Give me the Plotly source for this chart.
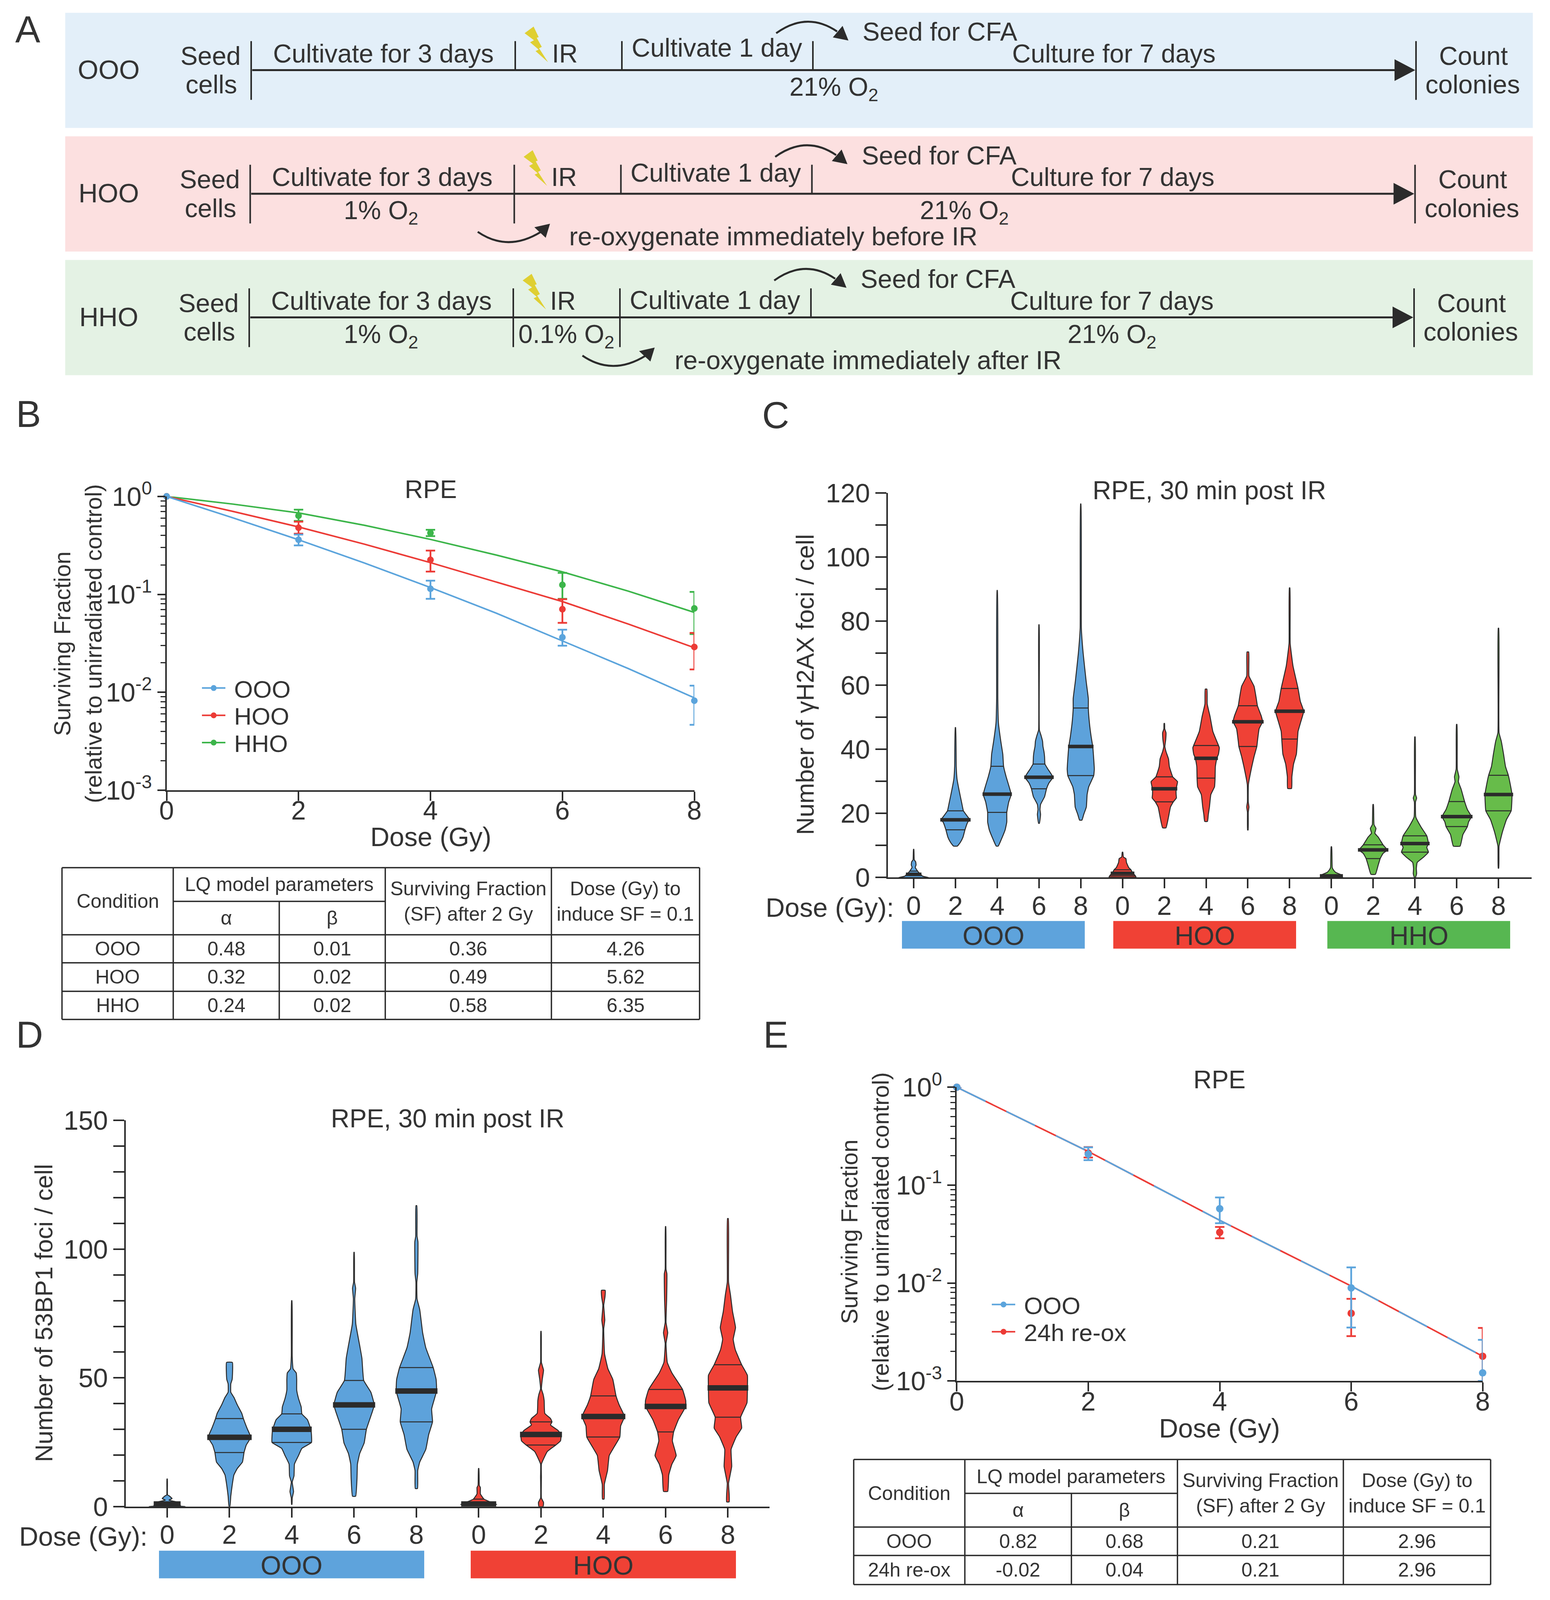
import numpy as np
import plotly.graph_objects as go

# reference size, and the area the browser really shows (it stops at 4096 high, page margin 8)
W, H = 3968, 4576
PAGE_H = 4096
FIG_W, FIG_H = W - 16, PAGE_H - 16
SQUEEZE = PAGE_H / H

FONT = "Liberation Sans"
INK = "#333333"
LINE = "#2b2b2b"
BLUE, RED, GREEN = "#5BA4DC", "#EC3B36", "#3CB54A"
V_BLUE, V_RED, V_GREEN = "#5DA2DB", "#EF4136", "#67BC4A"

# --- panel B, survival curves
dose = [0, 2, 4, 6, 8]
fit_dose = [0, 1, 2, 3, 4, 5, 6, 7, 8]

b_fit_ooo = [1, .606, .361, .2088, .1174, .0642, .03346, .01745, .00877]
b_fit_hoo = [1, .705, .488, .3253, .2108, .134, .0844, .0497, .0285]
b_fit_hho = [1, .836, .679, .507, .364, .252, .1697, .1078, .0654]

b_ooo = [1, .361, .114, .0364, .0082]
b_ooo_hi = [1, .408, .138, .0436, .0117]
b_ooo_lo = [1, .316, .09, .0299, .00466]
b_hoo = [1, .479, .225, .0705, .029]
b_hoo_hi = [1, .552, .28, .0893, .0404]
b_hoo_lo = [1, .416, .171, .0512, .0171]
b_hho = [1, .636, .424, .125, .0719]
b_hho_hi = [1, .733, .457, .166, .106]
b_hho_lo = [1, .562, .393, .09, .0393]

# --- panel E, survival curves
e_fit = [1, .4696, .2206, .0983, .04378, .0202, .00932, .00408, .00179]
e_ooo = [1, .207, .0575, .00892, .00121]
e_ooo_hi = [1, .243, .0748, .01447, .00263]
e_ooo_lo = [1, .18, .0408, .00351, .001]
e_rox = [1, .213, .033, .00491, .00179]
e_rox_hi = [1, .245, .0374, .00691, .00348]
e_rox_lo = [1, .1916, .0287, .00287, .001]

# --- tables
table_head = ["Condition", "LQ model parameters", "α", "β",
              "Surviving Fraction<br>(SF) after 2 Gy", "Dose (Gy) to<br>induce SF = 0.1"]
b_rows = [["OOO", "0.48", "0.01", "0.36", "4.26"],
          ["HOO", "0.32", "0.02", "0.49", "5.62"],
          ["HHO", "0.24", "0.02", "0.58", "6.35"]]
e_rows = [["OOO", "0.82", "0.68", "0.21", "2.96"],
          ["24h re-ox", "-0.02", "0.04", "0.21", "2.96"]]

# --- panel C violins: foci levels and the width seen at each level
c_dose = [0, 2, 4, 6, 8] * 3
c_levels = [
    [0, .4, 1, 1.6, 2.4, 3.2, 3.9, 4.9, 5.5, 8.8],
    [9.8, 11, 12.6, 14.9, 17.3, 18, 18.9, 20.8, 22.8, 26.7, 30.7, 34.6, 46.8],
    [9.8, 11.8, 14.9, 17.3, 20.3, 23.6, 25.9, 28.3, 31.4, 34.7, 38.5, 42.5, 48.3, 55.8, 89.6],
    [16.9, 19.7, 21.2, 22.8, 25.2, 27.7, 29.5, 31.3, 33.8, 35.4, 37.7, 39.3, 40.9, 42.5, 44.4, 46, 78.9],
    [17.9, 19.7, 22, 25.9, 28.3, 31.8, 33.8, 37, 40.9, 44, 47.9, 52.7, 55.8, 61.3, 70, 77.8, 116.6],
    [.15, .6, 1.6, 2.4, 3.1, 4.7, 5.9, 6.4, 7.9],
    [15.5, 18.9, 22, 23.6, 24.8, 25.9, 27.7, 29.9, 31.4, 34.6, 37, 39.3, 40.9, 43, 45.2, 46.4, 48.1],
    [17.5, 19.7, 22, 25.9, 28.3, 31, 34.6, 37.2, 38.5, 40.5, 42.5, 45.6, 50.3, 54.2, 58.8],
    [14.8, 20.4, 22, 23.6, 29, 34.6, 37.7, 40.9, 42.5, 46.4, 48.6, 50.3, 53.6, 55.8, 59.7, 62.9, 70.4],
    [27.8, 31.4, 35.4, 38.5, 43.2, 45.6, 48.7, 51.9, 55, 59, 66, 73.1, 90.4],
    [0, .8, 1.6, 2.4, 3.1, 9.6],
    [1, 3.9, 5.9, 7.5, 8.6, 10.2, 12.6, 13.8, 15.3, 16.5, 22.8],
    [0, 1.2, 2.8, 4.7, 6.3, 7.9, 9.4, 10.6, 13, 15.7, 18.9, 23.6, 24.8, 25.9, 43.9],
    [9.8, 13.4, 15.9, 17.3, 19, 21.2, 23.7, 27.5, 29.9, 31.4, 33.8, 47.8],
    [2.9, 9.8, 14.2, 18, 20.8, 25.9, 29, 31.9, 34.6, 38.5, 42.5, 45.2, 77.8],
]
c_width = [
    [75, 45, 35, 25, 15, 8, 12, 10, 3, 1],
    [10, 25, 38, 48, 62, 72, 62, 40, 33, 20, 8, 4, 1],
    [5, 20, 40, 48, 48, 58, 70, 60, 45, 32, 28, 18, 6, 3, 1],
    [2, 8, 5, 8, 28, 38, 50, 70, 45, 30, 28, 25, 20, 18, 10, 2, 1],
    [6, 15, 28, 32, 40, 65, 68, 65, 60, 52, 44, 38, 38, 27, 12, 3, 1],
    [48, 45, 35, 30, 22, 14, 12, 3, 1],
    [6, 15, 22, 32, 43, 42, 42, 47, 30, 18, 15, 6, 2, 5, 6, 1.5, 1],
    [5, 8, 12, 17, 30, 32, 33, 38, 44, 47, 38, 24, 14, 4, 3],
    [1, 1.5, 4, 1.5, 2, 14, 22, 32, 34, 40, 52, 48, 34, 30, 22, 4, 3],
    [7, 8, 14, 24, 28, 30, 40, 50, 38, 30, 12, 2, 1],
    [40, 35, 15, 7, 3, 1],
    [8, 18, 25, 35, 50, 35, 18, 6, 10, 3, 1],
    [2, 6, 5, 8, 30, 48, 42, 48, 42, 22, 3, 2, 6, 2, 1],
    [12, 22, 38, 42, 52, 38, 28, 16, 6, 8, 2, 1],
    [1, 2, 14, 28, 45, 48, 42, 35, 25, 18, 10, 2, 1],
]
c_width_scale = [1 / 209.5] * 5 + [1 / 148.3] * 10
c_median = [1, 18, 26, 31.3, 40.9, 1.3, 27.7, 37.2, 48.6, 51.9, .5, 8.6, 10.6, 19, 25.9]
c_q1 = [None, 14.9, 20.3, 27.7, 31.8, .5, 23.6, 31, 40.9, 43.2, None, 5.9, 7.9, 15.9, 20.8]
c_q3 = [2, 20.8, 34.7, 35.4, 52.9, 2.4, 31.4, 41.2, 53.6, 59, None, 10.2, 13, 23.7, 31.9]

# --- panel D violins
d_dose = [0, 2, 4, 6, 8] * 2
d_levels = [
    [0, .2, 1.2, 1.8, 2.5, 3.1, 4.1, 4.5, 10.7],
    [0, 4.1, 8.2, 12.3, 14.8, 17.3, 21, 23.9, 26.9, 30.5, 34.2, 36.2, 39.5, 42.4, 44.4, 47.7, 49.4, 56],
    [.8, 3.3, 5.8, 9.5, 11.9, 16.5, 19.8, 22.6, 24.9, 27.6, 30, 33.7, 36, 38.7, 42, 45.3, 49.4, 51.9, 53.5, 58.4, 80],
    [4, 10.7, 16.5, 20.6, 24.7, 30, 37, 39.5, 44.4, 49, 57.6, 62.6, 70.8, 80.7, 84.8, 87.2, 98.8],
    [7, 14, 17.3, 22.2, 28, 32.9, 37.9, 44.9, 49.4, 54, 61.7, 67.5, 76.5, 80.7, 87.2, 90.5, 102.9, 105, 116.9],
    [.8, 1.6, 2.9, 4.9, 7.4, 8.2, 14.8],
    [0, 1.6, 3.3, 11.5, 16.5, 21.4, 23.9, 25.5, 28, 29.6, 31.7, 32.9, 34.2, 36.2, 41.2, 43.6, 45.7, 49.4, 53, 56, 68.1],
    [2.9, 8.6, 14, 19.8, 23, 27, 31.3, 35, 39.5, 43, 49.4, 53.5, 59.3, 69.1, 72.4, 78.2, 81.5, 84],
    [5.9, 12.3, 16.5, 19.8, 25.5, 29, 33.7, 38.9, 41.2, 45.5, 51.9, 56, 63.4, 67.5, 71.6, 80.7, 90.5, 92.2, 108.8],
    [1.8, 4.9, 9, 15.6, 22.2, 27.2, 30.5, 34.7, 40.3, 46.1, 51, 55.1, 60.9, 65, 69.5, 75.7, 82.3, 87.2, 111.9],
]
d_width = [
    [80, 60, 55, 40, 8, 22, 10, 2, 1],
    [2, 6, 12, 20, 35, 58, 65, 75, 95, 78, 62, 55, 35, 20, 6, 6, 12, 13],
    [1, 2, 8, 2, 10, 12, 30, 45, 88, 88, 85, 70, 45, 42, 30, 22, 22, 20, 6, 2, 1],
    [7, 13, 15, 25, 45, 55, 82, 90, 75, 43, 35, 25, 8, 3, 7, 2, 1],
    [5, 6, 15, 42, 55, 72, 68, 90, 88, 75, 42, 28, 15, 3, 2, 6, 7, 3, 2],
    [85, 60, 25, 8, 8, 3, 1],
    [10, 12, 2, 2, 2, 30, 70, 92, 95, 80, 45, 52, 45, 18, 15, 10, 2, 6, 12, 2, 1],
    [4, 5, 20, 28, 50, 78, 82, 100, 75, 60, 45, 22, 6, 2, 7, 2, 8, 9],
    [10, 15, 30, 50, 32, 38, 60, 95, 95, 80, 30, 8, 2, 10, 2, 5, 6, 2, 1],
    [6, 6, 3, 18, 15, 40, 65, 60, 90, 92, 92, 65, 35, 25, 36, 22, 12, 3, 2],
]
d_width_scale = [1 / 277.8] * 5 + [1 / 294.2] * 5
d_median = [1, 26.9, 30, 39.5, 44.9, 1, 28, 35, 38.9, 46.1]
d_q1 = [None, 21, 24.9, 30, 32.9, None, 23.9, 27, 29, 34.7]
d_q3 = [None, 34.2, 36, 49, 54, 2.9, 32.9, 43, 45.5, 55.1]


def px(x):
    return (x - 8) / FIG_W


def py(y):
    return 1 - (y * SQUEEZE - 8) / FIG_H


fig = go.Figure()
shapes = []
notes = []


def text_at(x, y, text, size=66, angle=0, color=INK):
    notes.append(dict(x=px(x), y=py(y), xref="paper", yref="paper", text=text, showarrow=False,
                      xanchor="center", yanchor="middle", textangle=angle,
                      font=dict(family=FONT, size=size, color=color)))


def rect(x0, y0, x1, y1, fill):
    shapes.append(dict(type="rect", xref="paper", yref="paper", x0=px(x0), x1=px(x1),
                       y0=py(y0), y1=py(y1), fillcolor=fill, line=dict(width=0), layer="below"))


def seg(x0, y0, x1, y1, width=4, color=LINE):
    shapes.append(dict(type="line", xref="paper", yref="paper", x0=px(x0), x1=px(x1),
                       y0=py(y0), y1=py(y1), line=dict(color=color, width=width)))


def poly(points, fill):
    d = "M" + " L".join(f"{px(a):.6f},{py(b):.6f}" for a, b in points) + " Z"
    shapes.append(dict(type="path", xref="paper", yref="paper", path=d, fillcolor=fill, line=dict(width=0)))


def curve(x0, y0, cx, cy, x1, y1):
    d = f"M{px(x0):.6f},{py(y0):.6f} Q{px(cx):.6f},{py(cy):.6f} {px(x1):.6f},{py(y1):.6f}"
    shapes.append(dict(type="path", xref="paper", yref="paper", path=d, line=dict(color=LINE, width=5)))


# --- panel A, protocol strips
strip_names = ["OOO", "HOO", "HHO"]
strip_fill = ["#E3EFF9", "#FCE0E0", "#E4F2E4"]
strip_top = [36.5, 390, 743.6]
strip_down = [[], [1319], [1319, 1592]]
cultivate_shift = [-64.5, -60, -50]
oxygen_labels = [[(2134, "21% O<sub>2</sub>")],
                 [(975, "1% O<sub>2</sub>"), (2468, "21% O<sub>2</sub>")],
                 [(975, "1% O<sub>2</sub>"), (1450, "0.1% O<sub>2</sub>"), (2846, "21% O<sub>2</sub>")]]
lightning = [(1366, 76), (1379, 106), (1374, 108), (1387, 134), (1380, 138), (1403, 178),
             (1371, 146), (1379, 142), (1357, 121), (1367, 115), (1343, 95)]

for i, name in enumerate(strip_names):
    top = strip_top[i]
    dx, dy = -2.5 * i, top - strip_top[0]
    rect(167, top, 3924, top + 329.5, strip_fill[i])
    base = 200.6 + dy
    seg(645.6 + dx, base, 3580 + dx, base, 5)
    poly([(3570 + dx, base - 31), (3623 + dx, base), (3570 + dx, base + 31)], LINE)
    for xt in (643, 3625):
        seg(xt + dx, base - 83, xt + dx, base + 85, 4)
    for xt in (1319, 1592, 2081):
        seg(xt + dx, base - 83, xt + dx, base, 4)
    for xt in strip_down[i]:
        seg(xt + dx, base, xt + dx, base + 85, 4)
    poly([(a + dx, b + dy) for a, b in lightning], "#DFCF32")
    curve(1987 + dx, 95 + dy, 2066 + dx, 31.5 + dy, 2143 + dx, 90 + dy)
    poly([(2157 + dx, 74 + dy), (2132 + dx, 107 + dy), (2172 + dx, 116 + dy)], LINE)
    text_at(278, base - 2, name, 68)
    text_at(539 + dx, base - 41, "Seed")
    text_at(541 + dx, base + 41, "cells")
    text_at(981 + dx, base - 48, "Cultivate for 3 days")
    text_at(1446 + dx, base - 48, "IR")
    text_at(1835 + dx, base + cultivate_shift[i], "Cultivate 1 day")
    text_at(2406 + dx, base - 110, "Seed for CFA")
    text_at(2851 + dx, base - 48, "Culture for 7 days")
    text_at(3772 + dx, base - 41, "Count")
    text_at(3770 + dx, base + 41, "colonies")
    for ox, label in oxygen_labels[i]:
        text_at(ox, base + 53, label)

for ax, ay, label, lx in ((0, 0, "re-oxygenate immediately before IR", 1980),
                          (268, 354, "re-oxygenate immediately after IR", 2221.6)):
    curve(1223 + ax, 663 + ay, 1300 + ax, 722 + ay, 1385 + ax, 663 + ay)
    poly([(1408 + ax, 640 + ay), (1368 + ax, 650 + ay), (1397 + ax, 680 + ay)], LINE)
    text_at(lx, 675.6 + ay, label)

for letter, lx, ly in (("A", 71, 83), ("B", 73, 1184), ("C", 1986, 1187), ("D", 75, 2959), ("E", 1986, 2959)):
    text_at(lx, ly, letter, 96)


# --- axes
def axis_common():
    return dict(showgrid=False, zeroline=False, showline=True, linecolor=LINE, linewidth=4,
                ticks="outside", tickcolor=LINE, tickwidth=4,
                tickfont=dict(family=FONT, size=68, color=INK))


log_minor = [m * 10.0 ** e for e in (-3, -2, -1) for m in (2, 3, 4, 5, 6, 7, 8, 9)]
log_ticks = [1, .1, .01, .001]
log_text = ["10<sup>0</sup>", "10<sup>-1</sup>", "10<sup>-2</sup>", "10<sup>-3</sup>"]


def log_axis(domain):
    return dict(axis_common(), type="log", range=[-3, 0], domain=domain, tickmode="array",
                tickvals=log_ticks, ticktext=log_text, ticklen=20,
                minor=dict(tickmode="array", tickvals=log_minor, ticks="outside", ticklen=12,
                           tickwidth=3, tickcolor=LINE))


def dose_axis(domain, anchor, standoff):
    return dict(axis_common(), range=[0, 8], domain=domain, anchor=anchor, tickmode="array",
                tickvals=dose, ticktext=[str(d) for d in dose], ticklen=23, ticklabelstandoff=standoff)


def count_axis(domain, top, step, anchor):
    return dict(axis_common(), range=[0, top], domain=domain, anchor=anchor, dtick=step, ticklen=28,
                minor=dict(dtick=10, ticks="outside", ticklen=28, tickwidth=4, tickcolor=LINE))


def group_axis(domain, rng, labels, anchor):
    return dict(axis_common(), range=rng, domain=domain, anchor=anchor, tickmode="array",
                tickvals=list(range(len(labels))), ticktext=[str(d) for d in labels], ticklen=24,
                ticklabelstandoff=-14)


fig.update_layout(
    width=FIG_W, height=FIG_H, autosize=False,
    margin=dict(l=0, r=0, t=0, b=0, autoexpand=False),
    paper_bgcolor="white", plot_bgcolor="rgba(0,0,0,0)", showlegend=True,
    font=dict(family=FONT, color=INK),
    xaxis=dose_axis([px(426.5), px(1777.5)], "y", -34),
    yaxis=log_axis([py(2260), py(1419.8)]),
    xaxis2=group_axis([px(2273), px(3920.6)], [-.617, 14.79], c_dose, "y2"),
    yaxis2=dict(count_axis([py(2509.6), py(1410)], 120, 20, "x2")),
    xaxis3=group_axis([px(322), px(1970)], [-.664, 9.668], d_dose, "y3"),
    yaxis3=dict(count_axis([py(4308.7), py(3204.6)], 150, 50, "x3")),
    xaxis4=dose_axis([px(2449.4), px(3795.6)], "y4", -33),
    yaxis4=dict(log_axis([py(3949.6), py(3109.5)]), anchor="x4"),
)


# --- survival panels
def add_fit(x_ref, y_ref, values, color, dash=None):
    fig.add_trace(go.Scatter(x=fit_dose, y=values, xaxis=x_ref, yaxis=y_ref, mode="lines",
                             line=dict(color=color, width=4, dash=dash), showlegend=False, hoverinfo="skip"))


def add_points(x_ref, y_ref, values, hi, lo, color, size=17):
    up = [a - b for a, b in zip(hi, values)]
    down = [b - a for a, b in zip(lo, values)]
    fig.add_trace(go.Scatter(x=dose, y=values, xaxis=x_ref, yaxis=y_ref, mode="markers", cliponaxis=False,
                             marker=dict(color=color, size=size),
                             error_y=dict(type="data", symmetric=False, array=up, arrayminus=down,
                                          color=color, thickness=4.5, width=12),
                             showlegend=False, hoverinfo="skip"))


def add_key(slot, name, color, x_text, y_row):
    key = "legend" if slot == 1 else f"legend{slot}"
    fig.add_trace(go.Scatter(x=[None], y=[None], mode="lines+markers", name="\u00a0" + name, legend=key,
                             line=dict(color=color, width=4), marker=dict(color=color, size=15)))
    fig.update_layout({key: dict(x=px(x_text - 88), y=py(y_row), xanchor="left", yanchor="middle",
                                 bgcolor="rgba(0,0,0,0)", borderwidth=0, itemwidth=60,
                                 font=dict(family=FONT, size=62, color=INK))})


for fit, pts, hi, lo, color in ((b_fit_hho, b_hho, b_hho_hi, b_hho_lo, GREEN),
                                (b_fit_hoo, b_hoo, b_hoo_hi, b_hoo_lo, RED),
                                (b_fit_ooo, b_ooo, b_ooo_hi, b_ooo_lo, BLUE)):
    add_fit("x", "y", fit, color)
    add_points("x", "y", pts, hi, lo, color)

add_fit("x4", "y4", e_fit, RED)
add_fit("x4", "y4", e_fit, BLUE, dash="82px,59px")
add_points("x4", "y4", e_rox, e_rox_hi, e_rox_lo, RED, 19)
add_points("x4", "y4", e_ooo, e_ooo_hi, e_ooo_lo, BLUE, 19)

add_key(1, "OOO", BLUE, 600, 1968)
add_key(2, "HOO", RED, 600, 2046)
add_key(3, "HHO", GREEN, 600, 2124)
add_key(4, "OOO", BLUE, 2622, 3731)
add_key(5, "24h re-ox", RED, 2622, 3809)


# --- violin panels
def add_violins(x_ref, y_ref, levels, widths, scales, medians, q1s, q3s, colors, thick):
    for pos, (lv, wd, sc, med, q1, q3, col) in enumerate(zip(levels, widths, scales, medians, q1s, q3s, colors)):
        half = [w * sc for w in wd]
        xs = [pos + h for h in half] + [pos - h for h in half[::-1]] + [pos + half[0]]
        ys = list(lv) + list(lv[::-1]) + [lv[0]]
        fig.add_trace(go.Scatter(x=xs, y=ys, xaxis=x_ref, yaxis=y_ref, mode="lines", fill="toself",
                                 fillcolor=col, line=dict(color=LINE, width=2.5, shape="spline", smoothing=.35),
                                 showlegend=False, hoverinfo="skip"))
        for val, lw, pad in ((q1, 2.5, 0), (q3, 2.5, 0), (med, thick, 4 * sc)):
            if val is None:
                continue
            h = np.interp(val, lv, half) + pad
            fig.add_trace(go.Scatter(x=[pos - h, pos + h], y=[val, val], xaxis=x_ref, yaxis=y_ref, mode="lines",
                                     line=dict(color=LINE, width=lw), showlegend=False, hoverinfo="skip"))


add_violins("x2", "y2", c_levels, c_width, c_width_scale, c_median, c_q1, c_q3,
            [V_BLUE] * 5 + [V_RED] * 5 + [V_GREEN] * 5, 9)
add_violins("x3", "y3", d_levels, d_width, d_width_scale, d_median, d_q1, d_q3,
            [V_BLUE] * 5 + [V_RED] * 5, 14)

# --- group bars under the violins
for x0, x1, y0, y1, fill, name in ((2309, 2777, 2634, 2713, "#5EA3DC", "OOO"),
                                   (2850, 3318, 2634, 2713, "#F04135", "HOO"),
                                   (3398, 3866, 2634, 2713, "#57B751", "HHO"),
                                   (407, 1086, 4435, 4514, "#5EA3DC", "OOO"),
                                   (1205, 1884, 4435, 4514, "#F04135", "HOO")):
    rect(x0, y0, x1, y1, fill)
    text_at((x0 + x1) / 2, (y0 + y1) / 2 + 2, name, 68)

# --- panel titles, rotated text shrinks with the height of the page
text_at(1103, 1399, "RPE", 65)
text_at(1103, 2393, "Dose (Gy)", 68)
text_at(160, 1841, "Surviving Fraction", 59, -90)
text_at(240, 1841, "(relative to unirradiated control)", 59, -90)
text_at(3096, 1402, "RPE, 30 min post IR", 66)
text_at(2061, 1958, "Number of γH2AX foci / cell", 63, -90)
text_at(2124, 2595, "Dose (Gy):", 68)
text_at(1146, 3199, "RPE, 30 min post IR", 66)
text_at(112, 3756, "Number of 53BP1 foci / cell", 63, -90)
text_at(213, 4394, "Dose (Gy):", 68)
text_at(3122, 3087, "RPE", 65)
text_at(3122, 4084, "Dose (Gy)", 68)
text_at(2175, 3523, "Surviving Fraction", 59, -90)
text_at(2255, 3523, "(relative to unirradiated control)", 59, -90)


# --- tables
def draw_table(cols, rows_y, rows):
    left, right = cols[0], cols[-1]
    seg(left, rows_y[0], right, rows_y[0], 3.5)
    seg(cols[1], rows_y[1], cols[3], rows_y[1], 3.5)
    for y in rows_y[2:]:
        seg(left, y, right, y, 3.5)
    for i, x in enumerate(cols):
        seg(x, rows_y[1] if i == 2 else rows_y[0], x, rows_y[-1], 3.5)
    head_mid = (rows_y[0] + rows_y[2]) / 2
    text_at((cols[0] + cols[1]) / 2, head_mid, table_head[0], 50)
    text_at((cols[1] + cols[3]) / 2, (rows_y[0] + rows_y[1]) / 2, table_head[1], 50)
    text_at((cols[1] + cols[2]) / 2, (rows_y[1] + rows_y[2]) / 2, table_head[2], 50)
    text_at((cols[2] + cols[3]) / 2, (rows_y[1] + rows_y[2]) / 2, table_head[3], 50)
    text_at((cols[3] + cols[4]) / 2, head_mid, table_head[4], 50)
    text_at((cols[4] + cols[5]) / 2, head_mid, table_head[5], 50)
    cells = [(cols[0] + cols[1]) / 2, (cols[1] + cols[2]) / 2, (cols[2] + cols[3]) / 2,
             (cols[3] + cols[4]) / 2, (cols[4] + cols[5]) / 2]
    for r, row in enumerate(rows):
        mid = (rows_y[r + 2] + rows_y[r + 3]) / 2
        for cx, value in zip(cells, row):
            text_at(cx, mid, value, 50)


draw_table([158.7, 443.5, 714.9, 986.3, 1411.6, 1790.9],
           [2481.6, 2578, 2673.4, 2753.7, 2835.2, 2915.5], b_rows)
draw_table([2185.5, 2470, 2742.8, 3014.3, 3439, 3816],
           [4174, 4271, 4367.5, 4448.7, 4532], e_rows)

fig.update_layout(shapes=shapes, annotations=notes)
fig.write_html("out.html")
